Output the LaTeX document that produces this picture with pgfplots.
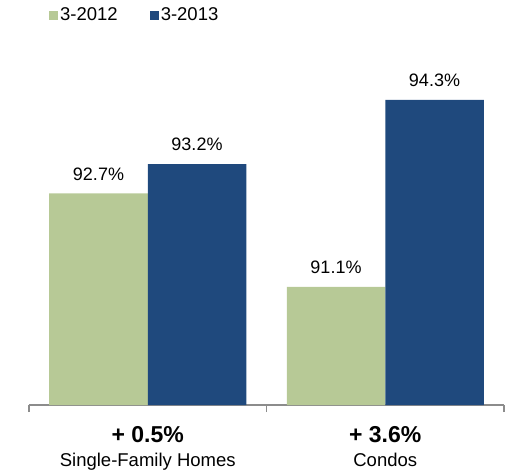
\documentclass[border=0pt]{standalone}
\usepackage{pgfplots}
\pgfplotsset{compat=1.18}
\usepackage{fontspec}
\setmainfont{Liberation Sans}
\definecolor{cgreen}{RGB}{183,201,150}
\definecolor{cblue}{RGB}{31,73,125}
\definecolor{caxis}{RGB}{140,140,140}

\begin{document}
\begin{tikzpicture}
\useasboundingbox (-29pt,-69pt) rectangle (479pt,405pt);
\begin{axis}[
  at={(0pt,0pt)}, anchor=south west,
  scale only axis, width=475pt, height=400pt,
  xmin=0, xmax=2, ymin=89.08, ymax=95.925,
  ybar=0pt, bar width=98.5pt,
  axis y line=none, axis x line*=bottom,
  x axis line style={caxis, line width=1.5pt},
  xtick={0,1,2}, xticklabels={,,},
  tick align=outside, major tick length=7pt,
  x tick style={caxis, line width=1.5pt},
  extra x ticks={0.5,1.5},
  extra x tick labels={{{\fontsize{23}{24}\selectfont\bfseries + 0.5\%}\\Single-Family Homes},{{\fontsize{23}{24}\selectfont\bfseries + 3.6\%}\\Condos}},
  extra x tick style={major tick length=0pt,
    x tick label style={align=center, font=\fontsize{18.5}{24}\selectfont, yshift=-18pt}},
  /pgf/number format/assume math mode=true,
  nodes near coords={\pgfmathprintnumber[fixed,fixed zerofill,precision=1]{\pgfplotspointmeta}\%},
  nodes near coords style={font=\fontsize{18}{20}\selectfont, text=black, yshift=9.7pt},
  legend image code/.code={\fill[#1] (0pt,-4.5pt) rectangle (9pt,4.5pt);},
  legend columns=2,
  legend style={draw=none, fill=none, at={(0.042,0.998)}, anchor=north west,
    font=\fontsize{18.5}{20}\selectfont, inner sep=0pt,
    /tikz/every even column/.append style={column sep=30pt}},
]
\addplot[fill=cgreen, draw=none] coordinates {(0.5,92.7) (1.5,91.1)};
\addlegendentry{3-2012}
\addplot[fill=cblue, draw=none] coordinates {(0.5,93.2) (1.5,94.3)};
\addlegendentry{3-2013}
\end{axis}
\end{tikzpicture}
\end{document}
